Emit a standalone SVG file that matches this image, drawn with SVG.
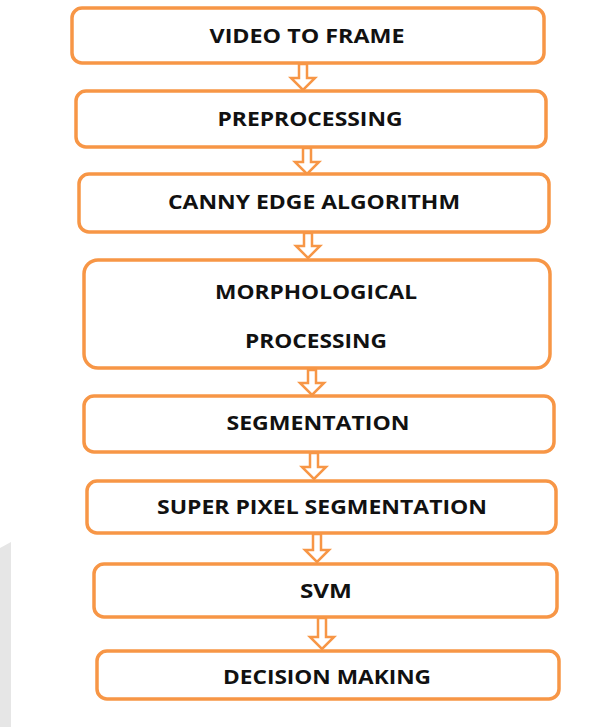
<svg xmlns="http://www.w3.org/2000/svg" width="606" height="727" viewBox="0 0 606 727">
<style>
.box{fill:#fff;stroke:#F79646;stroke-width:3.5}
.arr{fill:#fff;stroke:#F79646;stroke-width:2.5;stroke-linejoin:miter}
.t{font-family:"Open Sans","Liberation Sans",sans-serif;font-weight:bold;font-size:19px;fill:#111;text-anchor:middle;dominant-baseline:central}
</style>
<rect width="606" height="727" fill="#fff"/>
<path d="M0 548 L11 542 L11 727 L0 727 Z" fill="#e6e6e6"/>
<g id="connectors">
<path class="arr" d="M299 64 L307 64 L307 78 L315 78 L303 90 L291 78 L299 78 Z"/>
<path class="arr" d="M303 148 L311 148 L311 162 L319 162 L307 174 L295 162 L303 162 Z"/>
<path class="arr" d="M304 233 L312 233 L312 246 L320 246 L308 258 L296 246 L304 246 Z"/>
<path class="arr" d="M308 370 L316 370 L316 383 L324 383 L312 395 L300 383 L308 383 Z"/>
<path class="arr" d="M310 453 L318 453 L318 467 L326 467 L314 479 L302 467 L310 467 Z"/>
<path class="arr" d="M313 534 L321 534 L321 550 L329 550 L317 562 L305 550 L313 550 Z"/>
<path class="arr" d="M318 618 L326 618 L326 637 L334 637 L322 649 L310 637 L318 637 Z"/>
</g>
<g id="n1"><rect class="box" x="72" y="8" width="472" height="55" rx="10"/><text class="t" x="307" y="36" textLength="195" lengthAdjust="spacingAndGlyphs">VIDEO TO FRAME</text></g>
<g id="n2"><rect class="box" x="76" y="91" width="470" height="56" rx="10"/><text class="t" x="310" y="119" textLength="185" lengthAdjust="spacingAndGlyphs">PREPROCESSING</text></g>
<g id="n3"><rect class="box" x="79" y="174" width="470" height="58" rx="10"/><text class="t" x="314" y="202" textLength="292" lengthAdjust="spacingAndGlyphs">CANNY EDGE ALGORITHM</text></g>
<g id="n4"><rect class="box" x="84" y="260" width="466" height="108" rx="14"/><text class="t" x="316" y="292" textLength="202" lengthAdjust="spacingAndGlyphs">MORPHOLOGICAL</text><text class="t" x="316" y="341" textLength="142" lengthAdjust="spacingAndGlyphs">PROCESSING</text></g>
<g id="n5"><rect class="box" x="84" y="396" width="470" height="56" rx="10"/><text class="t" x="318" y="423" textLength="183" lengthAdjust="spacingAndGlyphs">SEGMENTATION</text></g>
<g id="n6"><rect class="box" x="87" y="481" width="469" height="52" rx="10"/><text class="t" x="322" y="507" textLength="330" lengthAdjust="spacingAndGlyphs">SUPER PIXEL SEGMENTATION</text></g>
<g id="n7"><rect class="box" x="94" y="564" width="463" height="53" rx="10"/><text class="t" x="326" y="591" textLength="52" lengthAdjust="spacingAndGlyphs">SVM</text></g>
<g id="n8"><rect class="box" x="97" y="651" width="462" height="48" rx="10"/><text class="t" x="327" y="677" textLength="208" lengthAdjust="spacingAndGlyphs">DECISION MAKING</text></g>
</svg>
